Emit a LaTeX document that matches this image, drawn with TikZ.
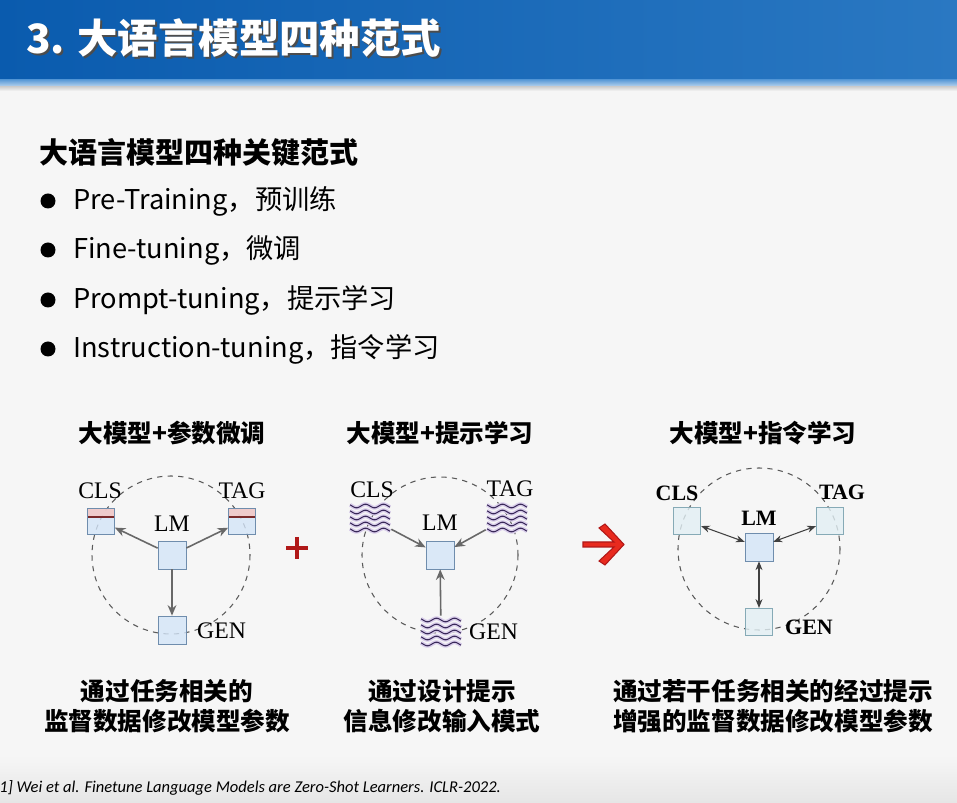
\documentclass[tikz,border=0pt]{standalone}
\usepackage{fontspec}
\setmainfont{Liberation Serif}
\newfontfamily\cjk{Noto Sans CJK SC}
\newfontfamily\citefont{Carlito}
\usetikzlibrary{arrows.meta}
\definecolor{bardark}{HTML}{0A5BAE}
\definecolor{barlight}{HTML}{2A78C2}
\definecolor{barstrip}{HTML}{5F9DD8}
\definecolor{pagebg}{HTML}{F6F6F6}
\definecolor{boxfill}{HTML}{D4E5F8}
\definecolor{boxline}{HTML}{6F8DAD}
\definecolor{pinkfill}{HTML}{F5C4C0}
\definecolor{redline}{HTML}{7A2A2A}
\definecolor{ifill}{HTML}{E2EFF4}
\definecolor{iline}{HTML}{86AAB6}
\definecolor{ringgray}{HTML}{5A5A5A}
\definecolor{arrowgray}{HTML}{686868}
\definecolor{wavedark}{HTML}{3A2A5A}
\definecolor{wavefill}{HTML}{D8CCEA}
\definecolor{plusred}{HTML}{B01818}
\definecolor{arrowred}{HTML}{E82A1E}
\begin{document}
\begin{tikzpicture}[x=0.02cm,y=-0.02cm,
    lmbox/.style={draw=boxline,fill=boxfill,fill opacity=0.8,text opacity=1,minimum size=0.56cm,inner sep=0pt},
    taskbox/.style={lmbox,minimum width=0.54cm,minimum height=0.52cm,
      path picture={\fill[pinkfill] (path picture bounding box.north west) rectangle ([yshift=-0.18cm]path picture bounding box.north east);
        \draw[redline,line width=0.6pt] ([yshift=-0.18cm]path picture bounding box.north west) -- ([yshift=-0.18cm]path picture bounding box.north east);}},
    ibox/.style={draw=iline,fill=ifill,fill opacity=0.8,minimum size=0.55cm,inner sep=0pt},
    wavebox/.style={minimum width=0.84cm,minimum height=0.64cm,inner sep=0pt},
    tlabel/.style={font=\fontsize{13.5pt}{14pt}\selectfont},
    blabel/.style={font=\bfseries\fontsize{12.5pt}{13pt}\selectfont},
    ring/.style={draw=ringgray,dashed,line width=0.6pt},
    feed/.style={-{Stealth[length=6pt,width=5pt]},draw=arrowgray,line width=0.9pt},
    both/.style={{Stealth[length=5pt,width=4pt]}-{Stealth[length=5pt,width=4pt]},draw=black!75,line width=0.6pt},
    headtext/.style={font=\cjk\bfseries\fontsize{14pt}{15pt}\selectfont},
    captext/.style={font=\cjk\bfseries\fontsize{14pt}{17pt}\selectfont,align=center},
    itemtext/.style={anchor=west,inner sep=0pt,font=\cjk\fontsize{15.5pt}{16pt}\selectfont},
    wavy/.pic={
      \foreach \o in {-12,-6,0,6,12}{
        \draw[wavefill,line width=2.2pt] plot[domain=-20:20,samples=41,smooth] (\x,{\o+1.8*sin(\x*20)});
        \draw[wavedark,line width=0.6pt] plot[domain=-20:20,samples=41,smooth] (\x,{\o+1.8*sin(\x*20)});
      }
    }]
  \useasboundingbox (0,0) rectangle (957,803);
  \fill[pagebg] (0,0) rectangle (957,803);
  \shade[top color=pagebg,bottom color=gray!20] (0,755) rectangle (957,803);
  % title bar
  \shade[left color=bardark,right color=barlight] (0,0) rectangle (957,80);
  \shade[top color=barstrip,bottom color=barstrip!40] (0,80) rectangle (957,87);
  \shade[top color=gray!35,bottom color=pagebg] (0,87) rectangle (957,91);
  \node[anchor=west,inner sep=0pt,text=black!70,font=\cjk\bfseries\fontsize{23pt}{24pt}\selectfont] at (28,40) {3. 大语言模型四种范式};
  \node[anchor=west,inner sep=0pt,text=white,font=\cjk\bfseries\fontsize{23pt}{24pt}\selectfont] (title) at (26,38) {3. 大语言模型四种范式};
  % list
  \node[anchor=west,inner sep=0pt,font=\cjk\bfseries\fontsize{16.5pt}{17pt}\selectfont] (head) at (39,153) {大语言模型四种关键范式};
  \foreach \y/\t in {201/{Pre-Training，预训练},250/{Fine-tuning，微调},300/{Prompt-tuning，提示学习},349/{Instruction-tuning，指令学习}}{
    \fill (48,\y) circle[radius=7.5];
    \node[itemtext] at (73,\y) {\t};
  }
  % panel 1
  \node[headtext] (t1) at (172,433) {大模型+参数微调};
  \draw[ring] (171,555) circle[radius=79];
  \node[lmbox] (lm1) at (172,555) {};
  \node[taskbox] (cls1) at (101,521) {};
  \node[taskbox] (tag1) at (242,521) {};
  \node[lmbox] (gen1) at (172,630) {};
  \node[tlabel] at (172,524) {LM};
  \node[tlabel] at (100,491) {CLS};
  \node[tlabel] at (242,491) {TAG};
  \node[tlabel,anchor=west] at (191,631) {GEN};
  \draw[feed] (lm1) -- (cls1);
  \draw[feed] (lm1) -- (tag1);
  \draw[feed] (lm1) -- (gen1);
  \draw[plusred,line width=1.8pt] (286,548) -- (308,548) (297,537) -- (297,559);
  % panel 2
  \node[headtext] (t2) at (440,433) {大模型+提示学习};
  \draw[ring] (440,555) circle[radius=78];
  \node[lmbox] (lm2) at (440,555) {};
  \node[wavebox] (cls2) at (370,518) {};
  \node[wavebox] (tag2) at (507,518) {};
  \node[wavebox] (gen2) at (441,632) {};
  \pic at (cls2) {wavy};
  \pic at (tag2) {wavy};
  \pic at (gen2) {wavy};
  \node[tlabel] at (440,523) {LM};
  \node[tlabel] at (372,490) {CLS};
  \node[tlabel] at (510,489) {TAG};
  \node[tlabel,anchor=west] at (463,632) {GEN};
  \draw[feed] (cls2) -- (lm2);
  \draw[feed] (tag2) -- (lm2);
  \draw[feed] (gen2) -- (lm2);
  \draw[fill=arrowred,draw=plusred,line width=0.6pt] (583,542) -- (614,542) -- (599,528) -- (605,524) -- (624,544.5) -- (605,565) -- (599,561) -- (614,547) -- (583,547) -- cycle;
  % panel 3
  \node[headtext] (t3) at (763,433) {大模型+指令学习};
  \draw[ring] (759,549) circle[radius=81];
  \node[lmbox] (lm3) at (759,547) {};
  \node[ibox] (cls3) at (687,521) {};
  \node[ibox] (tag3) at (830,521) {};
  \node[ibox] (gen3) at (759,622) {};
  \node[blabel] at (759,518) {LM};
  \node[blabel] at (677,493) {CLS};
  \node[blabel] at (842,492) {TAG};
  \node[blabel,anchor=west] at (779,627) {GEN};
  \draw[both] (lm3) -- (cls3);
  \draw[both] (lm3) -- (tag3);
  \draw[both] (lm3) -- (gen3);
  % captions
  \node[captext] (c1) at (167,706) {通过任务相关的\\监督数据修改模型参数};
  \node[captext] (c2) at (442,706) {通过设计提示\\信息修改输入模式};
  \node[captext] (c3) at (773,706) {通过若干任务相关的经过提示\\增强的监督数据修改模型参数};
  \node[anchor=west,inner sep=0pt,font=\citefont\itshape\fontsize{9.4pt}{10pt}\selectfont] (cite) at (-6,788) {[1] Wei et al. Finetune Language Models are Zero-Shot Learners. ICLR-2022.};
\end{tikzpicture}
\end{document}
